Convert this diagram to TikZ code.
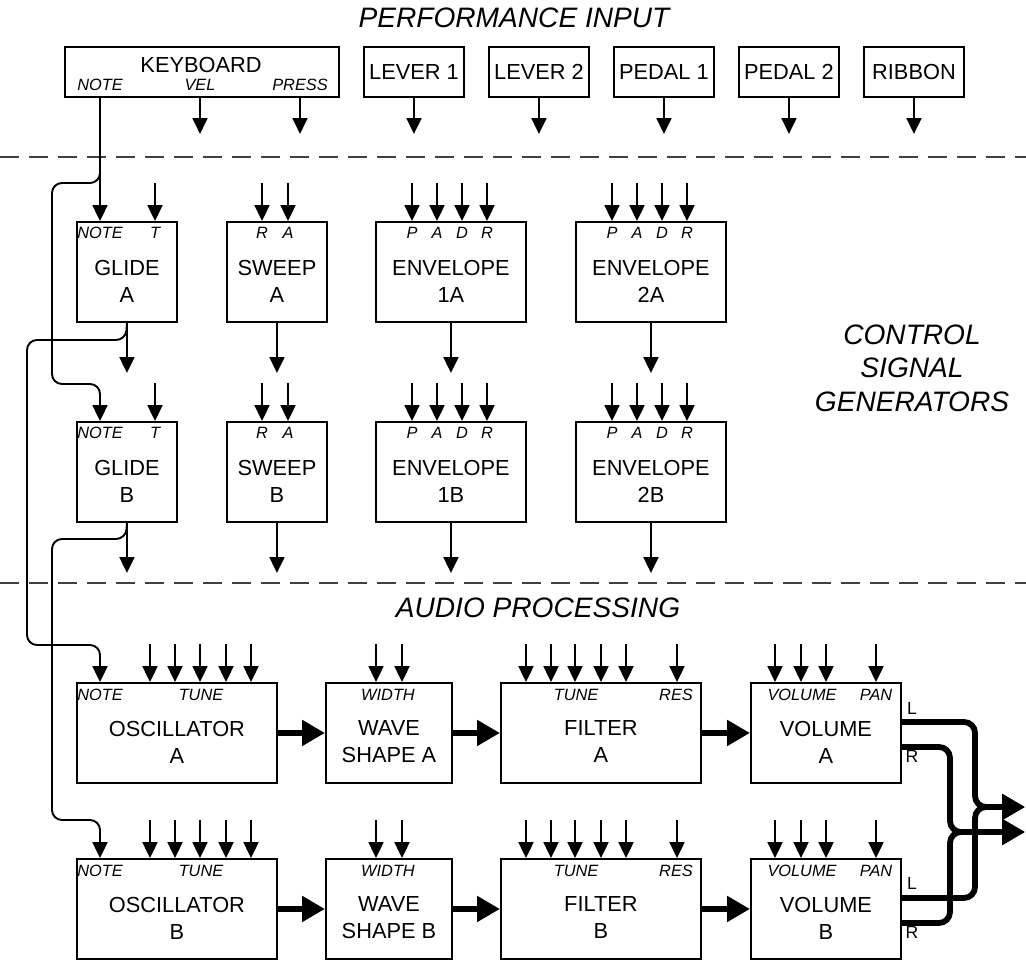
\documentclass[tikz,border=0pt]{standalone}
\usepackage{fontspec}
\setmainfont{Liberation Sans}
\usetikzlibrary{arrows.meta, calc}

\tikzset{
  box/.style={draw, line width=1.1pt, anchor=north west, inner sep=0pt, font=\fontsize{12.4}{15.4}\selectfont},
  txt/.style={font=\fontsize{12.4}{15.4}\selectfont, align=center, inner sep=0pt},
  lbl/.style={font=\fontsize{9.3}{11}\selectfont\itshape, inner sep=0pt},
  io/.style={font=\fontsize{10}{12}\selectfont, inner sep=0pt},
  head/.style={font=\fontsize{16}{19}\selectfont\itshape, align=center, inner sep=0pt},
  sig/.style={line width=1.1pt, -{Triangle[length=9pt, width=8.5pt]}},
  feed/.style={line width=1.1pt, {Triangle[length=9pt, width=8.5pt]}-},
  wire/.style={sig, rounded corners=0.2cm},
  bus/.style={line width=3.3pt, rounded corners=0.22cm, -{Triangle[length=13pt, width=14pt]}},
  level/.style={line width=0.7pt, black!75, dash pattern=on 11pt off 5.5pt}
}

\begin{document}
\begin{tikzpicture}[x=0.02cm, y=-0.02cm]
\useasboundingbox (0,0) rectangle (1026,959);

% Section headings
\node[head] (hPerf) at (514,18) {PERFORMANCE INPUT};
\node[head] (hCtrl) at (912,368) {CONTROL\\SIGNAL\\GENERATORS};
\node[head] (hAudio) at (538,608) {AUDIO PROCESSING};

% Section borders
\draw[level] (0,157) -- (1026,157);
\draw[level] (0,583) -- (1026,583);

% Nodes for performance input
\node[box, minimum width=5.48cm, minimum height=1cm] (kbd) at (64,46) {};
\node[txt] (kbdT) at (201,65) {KEYBOARD};
\node[lbl] (kbdN) at (100,85) {NOTE};
\node[lbl] (kbdV) at (200,85) {VEL};
\node[lbl] (kbdP) at (300,85) {PRESS};
\node[box, minimum width=2cm, minimum height=1cm] (lev1) at (363,46) {LEVER 1};
\node[box, minimum width=2cm, minimum height=1cm] (lev2) at (488,46) {LEVER 2};
\node[box, minimum width=2cm, minimum height=1cm] (ped1) at (613,46) {PEDAL 1};
\node[box, minimum width=2cm, minimum height=1cm] (ped2) at (738,46) {PEDAL 2};
\node[box, minimum width=2cm, minimum height=1cm] (rib) at (863,46) {RIBBON};

% Edges out of performance input
\draw[sig] (200,0 |- kbd.south) -- ++(0,36);
\draw[sig] (300,0 |- kbd.south) -- ++(0,36);
\draw[sig] (lev1.south) -- ++(0,36);
\draw[sig] (lev2.south) -- ++(0,36);
\draw[sig] (ped1.south) -- ++(0,36);
\draw[sig] (ped2.south) -- ++(0,36);
\draw[sig] (rib.south) -- ++(0,36);

% Nodes for control signal generators, row A
\node[box, minimum width=2cm, minimum height=2cm] (glA) at (76,221) {};
\node[txt] (glAT) at ($(glA.center)+(0,9)$) {GLIDE\\A};
\node[lbl] (glAN) at (100,233) {NOTE};
\node[lbl] (glAt) at (155,233) {T};
\node[box, minimum width=2cm, minimum height=2cm] (swA) at (226,221) {};
\node[txt] (swAT) at ($(swA.center)+(0,9)$) {SWEEP\\A};
\node[lbl] (swAr) at (262,233) {R};
\node[lbl] (swAa) at (288,233) {A};
\node[box, minimum width=3cm, minimum height=2cm] (e1A) at (375,221) {};
\node[txt] (e1AT) at ($(e1A.center)+(0,9)$) {ENVELOPE\\1A};
\node[lbl] (e1Ap) at (412,233) {P};
\node[lbl] (e1Aa) at (437,233) {A};
\node[lbl] (e1Ad) at (462,233) {D};
\node[lbl] (e1Ar) at (487,233) {R};
\node[box, minimum width=3cm, minimum height=2cm] (e2A) at (575,221) {};
\node[txt] (e2AT) at ($(e2A.center)+(0,9)$) {ENVELOPE\\2A};
\node[lbl] (e2Ap) at (612,233) {P};
\node[lbl] (e2Aa) at (637,233) {A};
\node[lbl] (e2Ad) at (662,233) {D};
\node[lbl] (e2Ar) at (687,233) {R};

% Nodes for control signal generators, row B
\node[box, minimum width=2cm, minimum height=2cm] (glB) at (76,421) {};
\node[txt] (glBT) at ($(glB.center)+(0,9)$) {GLIDE\\B};
\node[lbl] (glBN) at (100,433) {NOTE};
\node[lbl] (glBt) at (155,433) {T};
\node[box, minimum width=2cm, minimum height=2cm] (swB) at (226,421) {};
\node[txt] (swBT) at ($(swB.center)+(0,9)$) {SWEEP\\B};
\node[lbl] (swBr) at (262,433) {R};
\node[lbl] (swBa) at (288,433) {A};
\node[box, minimum width=3cm, minimum height=2cm] (e1B) at (375,421) {};
\node[txt] (e1BT) at ($(e1B.center)+(0,9)$) {ENVELOPE\\1B};
\node[lbl] (e1Bp) at (412,433) {P};
\node[lbl] (e1Ba) at (437,433) {A};
\node[lbl] (e1Bd) at (462,433) {D};
\node[lbl] (e1Br) at (487,433) {R};
\node[box, minimum width=3cm, minimum height=2cm] (e2B) at (575,421) {};
\node[txt] (e2BT) at ($(e2B.center)+(0,9)$) {ENVELOPE\\2B};
\node[lbl] (e2Bp) at (612,433) {P};
\node[lbl] (e2Ba) at (637,433) {A};
\node[lbl] (e2Bd) at (662,433) {D};
\node[lbl] (e2Br) at (687,433) {R};

% Inputs of control row A
\draw[feed] (155,0 |- glA.north) -- ++(0,-38);
\draw[feed] (262,0 |- swA.north) -- ++(0,-38);
\draw[feed] (288,0 |- swA.north) -- ++(0,-38);
\draw[feed] (412,0 |- e1A.north) -- ++(0,-38);
\draw[feed] (437,0 |- e1A.north) -- ++(0,-38);
\draw[feed] (462,0 |- e1A.north) -- ++(0,-38);
\draw[feed] (487,0 |- e1A.north) -- ++(0,-38);
\draw[feed] (612,0 |- e2A.north) -- ++(0,-38);
\draw[feed] (637,0 |- e2A.north) -- ++(0,-38);
\draw[feed] (662,0 |- e2A.north) -- ++(0,-38);
\draw[feed] (687,0 |- e2A.north) -- ++(0,-38);

% Inputs of control row B
\draw[feed] (155,0 |- glB.north) -- ++(0,-38);
\draw[feed] (262,0 |- swB.north) -- ++(0,-38);
\draw[feed] (288,0 |- swB.north) -- ++(0,-38);
\draw[feed] (412,0 |- e1B.north) -- ++(0,-38);
\draw[feed] (437,0 |- e1B.north) -- ++(0,-38);
\draw[feed] (462,0 |- e1B.north) -- ++(0,-38);
\draw[feed] (487,0 |- e1B.north) -- ++(0,-38);
\draw[feed] (612,0 |- e2B.north) -- ++(0,-38);
\draw[feed] (637,0 |- e2B.north) -- ++(0,-38);
\draw[feed] (662,0 |- e2B.north) -- ++(0,-38);
\draw[feed] (687,0 |- e2B.north) -- ++(0,-38);

% Outputs of control rows
\draw[sig] (glA.south) -- ++(0,50);
\draw[sig] (swA.south) -- ++(0,50);
\draw[sig] (e1A.south) -- ++(0,50);
\draw[sig] (e2A.south) -- ++(0,50);
\draw[sig] (glB.south) -- ++(0,50);
\draw[sig] (swB.south) -- ++(0,50);
\draw[sig] (e1B.south) -- ++(0,50);
\draw[sig] (e2B.south) -- ++(0,50);

% Nodes for audio processing, row A
\node[box, minimum width=4cm, minimum height=2cm] (oscA) at (76,682) {};
\node[txt] (oscAT) at ($(oscA.center)+(0,9)$) {OSCILLATOR\\A};
\node[lbl] (oscAN) at (100,695) {NOTE};
\node[lbl] (oscAt) at (201,695) {TUNE};
\node[box, minimum width=2.52cm, minimum height=2cm] (wsA) at (325,682) {};
\node[txt] (wsAT) at ($(wsA.center)+(0,9)$) {WAVE\\SHAPE A};
\node[lbl] (wsAw) at (388,695) {WIDTH};
\node[box, minimum width=4cm, minimum height=2cm] (fiA) at (500,682) {};
\node[txt] (fiAT) at ($(fiA.center)+(0,9)$) {FILTER\\A};
\node[lbl] (fiAt) at (576,695) {TUNE};
\node[lbl] (fiAr) at (676,695) {RES};
\node[box, minimum width=3cm, minimum height=2cm] (voA) at (750,682) {};
\node[txt] (voAT) at ($(voA.center)+(0,9)$) {VOLUME\\A};
\node[lbl] (voAv) at (802,695) {VOLUME};
\node[lbl] (voAp) at (876,695) {PAN};
\node[io] (voAL) at (912,708) {L};
\node[io] (voAR) at (912,756) {R};

% Nodes for audio processing, row B
\node[box, minimum width=4cm, minimum height=2cm] (oscB) at (76,858) {};
\node[txt] (oscBT) at ($(oscB.center)+(0,9)$) {OSCILLATOR\\B};
\node[lbl] (oscBN) at (100,871) {NOTE};
\node[lbl] (oscBt) at (201,871) {TUNE};
\node[box, minimum width=2.52cm, minimum height=2cm] (wsB) at (325,858) {};
\node[txt] (wsBT) at ($(wsB.center)+(0,9)$) {WAVE\\SHAPE B};
\node[lbl] (wsBw) at (388,871) {WIDTH};
\node[box, minimum width=4cm, minimum height=2cm] (fiB) at (500,858) {};
\node[txt] (fiBT) at ($(fiB.center)+(0,9)$) {FILTER\\B};
\node[lbl] (fiBt) at (576,871) {TUNE};
\node[lbl] (fiBr) at (676,871) {RES};
\node[box, minimum width=3cm, minimum height=2cm] (voB) at (750,858) {};
\node[txt] (voBT) at ($(voB.center)+(0,9)$) {VOLUME\\B};
\node[lbl] (voBv) at (802,871) {VOLUME};
\node[lbl] (voBp) at (876,871) {PAN};
\node[io] (voBL) at (912,883) {L};
\node[io] (voBR) at (912,932) {R};

% Inputs of audio row A
\draw[feed] (150,0 |- oscA.north) -- ++(0,-38);
\draw[feed] (175,0 |- oscA.north) -- ++(0,-38);
\draw[feed] (200,0 |- oscA.north) -- ++(0,-38);
\draw[feed] (226,0 |- oscA.north) -- ++(0,-38);
\draw[feed] (251,0 |- oscA.north) -- ++(0,-38);
\draw[feed] (376,0 |- wsA.north) -- ++(0,-38);
\draw[feed] (402,0 |- wsA.north) -- ++(0,-38);
\draw[feed] (526,0 |- fiA.north) -- ++(0,-38);
\draw[feed] (551,0 |- fiA.north) -- ++(0,-38);
\draw[feed] (575,0 |- fiA.north) -- ++(0,-38);
\draw[feed] (601,0 |- fiA.north) -- ++(0,-38);
\draw[feed] (626,0 |- fiA.north) -- ++(0,-38);
\draw[feed] (677,0 |- fiA.north) -- ++(0,-38);
\draw[feed] (775,0 |- voA.north) -- ++(0,-38);
\draw[feed] (801,0 |- voA.north) -- ++(0,-38);
\draw[feed] (826,0 |- voA.north) -- ++(0,-38);
\draw[feed] (876,0 |- voA.north) -- ++(0,-38);

% Inputs of audio row B
\draw[feed] (150,0 |- oscB.north) -- ++(0,-38);
\draw[feed] (175,0 |- oscB.north) -- ++(0,-38);
\draw[feed] (200,0 |- oscB.north) -- ++(0,-38);
\draw[feed] (226,0 |- oscB.north) -- ++(0,-38);
\draw[feed] (251,0 |- oscB.north) -- ++(0,-38);
\draw[feed] (376,0 |- wsB.north) -- ++(0,-38);
\draw[feed] (402,0 |- wsB.north) -- ++(0,-38);
\draw[feed] (526,0 |- fiB.north) -- ++(0,-38);
\draw[feed] (551,0 |- fiB.north) -- ++(0,-38);
\draw[feed] (575,0 |- fiB.north) -- ++(0,-38);
\draw[feed] (601,0 |- fiB.north) -- ++(0,-38);
\draw[feed] (626,0 |- fiB.north) -- ++(0,-38);
\draw[feed] (677,0 |- fiB.north) -- ++(0,-38);
\draw[feed] (775,0 |- voB.north) -- ++(0,-38);
\draw[feed] (801,0 |- voB.north) -- ++(0,-38);
\draw[feed] (826,0 |- voB.north) -- ++(0,-38);
\draw[feed] (876,0 |- voB.north) -- ++(0,-38);

% Note routing
\draw[sig] (100,0 |- kbd.south) -- (100,0 |- glA.north);
\draw[wire] (100,0 |- kbd.south) -- (100,183) -- (52,183) -- (52,384) -- (100,384) -- (100,0 |- glB.north);
\draw[wire] (glA.south) -- (126,340) -- (27,340) -- (27,645) -- (100,645) -- (100,0 |- oscA.north);
\draw[wire] (glB.south) -- (126,539) -- (52,539) -- (52,820) -- (100,820) -- (100,0 |- oscB.north);

% Audio signal path
\draw[bus] (oscA) -- (wsA);
\draw[bus] (wsA) -- (fiA);
\draw[bus] (fiA) -- (voA);
\draw[bus] (oscB) -- (wsB);
\draw[bus] (wsB) -- (fiB);
\draw[bus] (fiB) -- (voB);

% Stereo outputs
\coordinate (outL) at (1025,807);
\coordinate (outR) at (1025,832);
\draw[bus] ([yshift=0.22cm]voA.east) -| ($(outL)+(-50,0)$) -- (outL);
\draw[bus] ([yshift=-0.28cm]voA.east) -| ($(outR)+(-75,0)$) -- (outR);
\draw[bus] ([yshift=0.22cm]voB.east) -| ($(outL)+(-50,0)$) -- (outL);
\draw[bus] ([yshift=-0.28cm]voB.east) -| ($(outR)+(-75,0)$) -- (outR);
\end{tikzpicture}
\end{document}
